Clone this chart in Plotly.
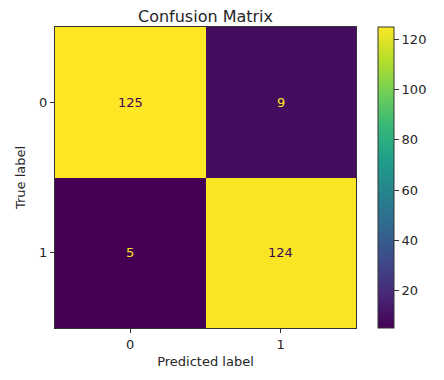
import plotly.graph_objects as go

labels = ["0", "1"]
z_values = [[125, 9], [5, 124]]
cbar_ticks = [20, 40, 60, 80, 100, 120]

W, H = 444, 380
OFF = 8  # page body margin compensation
L, R, T, B = 55 - OFF, 356 - OFF, 27 - OFF, 328 - OFF
CB_X = 378 - OFF

fig = go.Figure()
fig.add_trace(go.Heatmap(
    z=z_values, x=labels, y=labels,
    colorscale="Viridis", zmin=5, zmax=125,
    showscale=True,
    colorbar=dict(
        x=(CB_X - L) / (R - L), xanchor="left", xref="paper",
        y=0.5, yanchor="middle", yref="paper", len=1, lenmode="fraction",
        thickness=16, thicknessmode="pixels",
        outlinewidth=1, outlinecolor="#333333", xpad=0, ypad=0,
        tickvals=cbar_ticks, ticks="outside", ticklen=5, tickwidth=1,
        tickcolor="#333333",
        tickfont=dict(family="DejaVu Sans", size=13, color="#262626"),
    ),
    hoverinfo="skip",
))

for i, row in enumerate(z_values):
    for j, v in enumerate(row):
        fig.add_annotation(
            x=labels[j], y=labels[i], text=str(v), showarrow=False,
            font=dict(family="DejaVu Sans", size=13,
                      color="#440154" if v > 65 else "#fde725"),
        )

axis_common = dict(
    showline=True, linecolor="#333333", linewidth=1, mirror=True,
    ticks="outside", ticklen=4, tickwidth=1, tickcolor="#333333",
    tickfont=dict(family="DejaVu Sans", size=13, color="#262626"),
    showgrid=False, zeroline=False, automargin=False,
)
fig.update_xaxes(title=dict(text="Predicted label", standoff=6,
                            font=dict(family="DejaVu Sans", size=13, color="#262626")),
                 **axis_common)
fig.update_yaxes(title=dict(text="True label", standoff=10,
                            font=dict(family="DejaVu Sans", size=13, color="#262626")),
                 autorange="reversed", **axis_common)

fig.update_layout(
    width=W, height=H,
    margin=dict(l=L, r=W - R, t=T, b=H - B, pad=0, autoexpand=False),
    paper_bgcolor="white", plot_bgcolor="white",
    title=dict(text="Confusion Matrix", x=(L + R) / 2 / W, xanchor="center",
               y=1 - 8 / H, yanchor="middle",
               font=dict(family="DejaVu Sans", size=16, color="#262626")),
)

fig.write_html("out.html")
